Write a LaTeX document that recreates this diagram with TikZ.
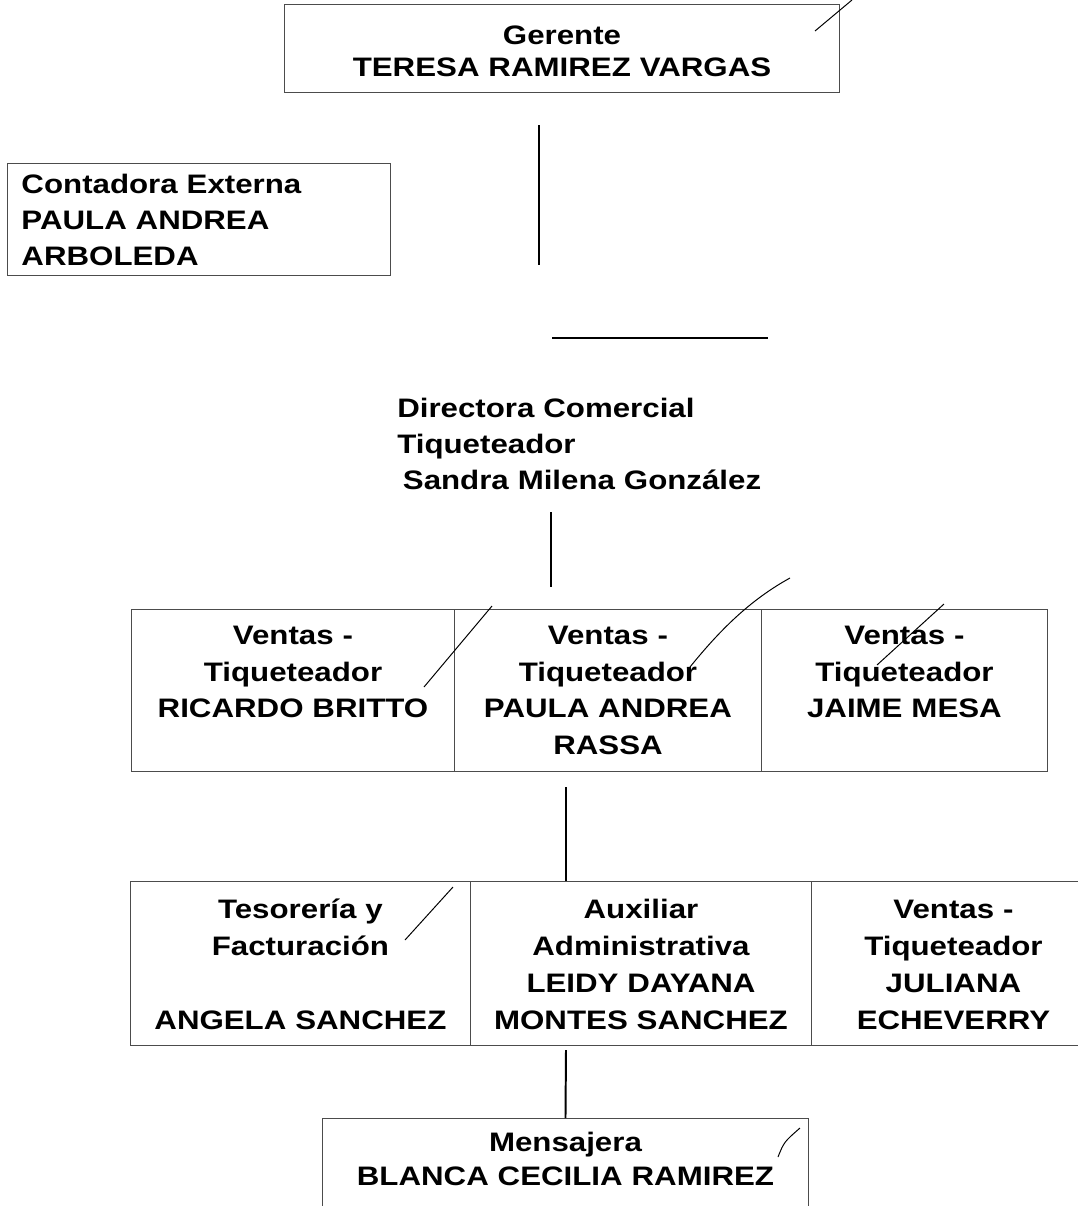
\documentclass[tikz,border=0pt]{standalone}
\usepackage{fontspec}
\setmainfont{Liberation Sans}[FakeStretch=1.17]
\begin{document}
\begin{tikzpicture}[x=0.025cm, y=-0.025cm,
    post/.style={draw=black!70, line width=0.6pt, inner xsep=0pt, inner ysep=0pt,
                 anchor=north west, align=center},
    txt/.style={font={\fontsize{19pt}{#1}\selectfont\bfseries}},
    link/.style={line width=1.4pt},
    tick/.style={line width=0.7pt},
  ]
  \useasboundingbox (0,0) rectangle (1078,1206);

  % Gerente
  \node[post, txt=22.5pt, text width=394.8pt, text height=28.5pt, text depth=34.1pt]
    (ger) at (284,4) {Gerente\\TERESA RAMIREZ VARGAS};

  % Contadora externa
  \node[post, txt=25.6pt, align=left, inner xsep=10pt, text width=252.5pt,
        text height=21.3pt, text depth=58.4pt]
    (cont) at (7,163) {Contadora Externa\\PAULA ANDREA\\ARBOLEDA};

  % Directora comercial (no box)
  \node[txt=25.8pt, anchor=base west, align=left, inner sep=0pt, text width=400pt]
    (dir) at (397,417) {Directora Comercial\\Tiqueteador\\\hspace*{4pt}Sandra Milena González};

  % Ventas row
  \node[post, txt=26.3pt, text width=229.8pt, text height=24.6pt, text depth=90.6pt]
    (v1) at (131,609) {Ventas -\\Tiqueteador\\RICARDO BRITTO};
  \node[post, txt=26.3pt, text width=218.4pt, text height=24.6pt, text depth=90.6pt]
    (v2) at (454,609) {Ventas -\\Tiqueteador\\PAULA ANDREA\\RASSA};
  \node[post, txt=26.3pt, text width=203.4pt, text height=24.6pt, text depth=90.6pt]
    (v3) at (761,609) {Ventas -\\Tiqueteador\\JAIME MESA};

  % Second row
  \node[post, txt=26.3pt, text width=241.8pt, text height=26.5pt, text depth=90.2pt]
    (t1) at (130,881) {Tesorería y\\Facturación\\[26.3pt]ANGELA SANCHEZ};
  \node[post, txt=26.3pt, text width=242.6pt, text height=26.5pt, text depth=90.2pt]
    (t2) at (470,881) {Auxiliar\\Administrativa\\LEIDY DAYANA\\MONTES SANCHEZ};
  \node[post, txt=26.3pt, text width=202pt, text height=26.5pt, text depth=90.2pt]
    (t3) at (811,881) {Ventas -\\Tiqueteador\\JULIANA\\ECHEVERRY};

  % Mensajera
  \node[post, txt=24.5pt, text width=345.7pt, text height=23.2pt, text depth=47.9pt]
    (mens) at (322,1118) {Mensajera\\BLANCA CECILIA RAMIREZ};

  % loose ends of the connectors
  \coordinate (g1) at (539,125);
  \coordinate (g2) at (539,265);
  \coordinate (h1) at (552,338);
  \coordinate (h2) at (768,338);
  \coordinate (d1) at (551,512);
  \coordinate (d2) at (551,587);
  \coordinate (r1) at (566,787);
  \coordinate (r2) at (566,1050);

  \draw[link] (g1) -- (g2);
  \draw[link] (h1) -- (h2);
  \draw[link] (d1) -- (d2);
  \draw[link] (r1) -- (r1 |- t2.north);
  \draw[link] (r2) -- (mens.north);

  % pen ticks
  \draw[tick] (815,31) -- (852,0);
  \draw[tick] (424,687) -- (492,606);
  \draw[tick] (690,667) .. controls (720,630) and (750,600) .. (790,578);
  \draw[tick] (877,665) -- (944,604);
  \draw[tick] (405,940) -- (453,887);
  \draw[tick] (778,1157) .. controls (784,1142) .. (800,1128);
\end{tikzpicture}
\end{document}
